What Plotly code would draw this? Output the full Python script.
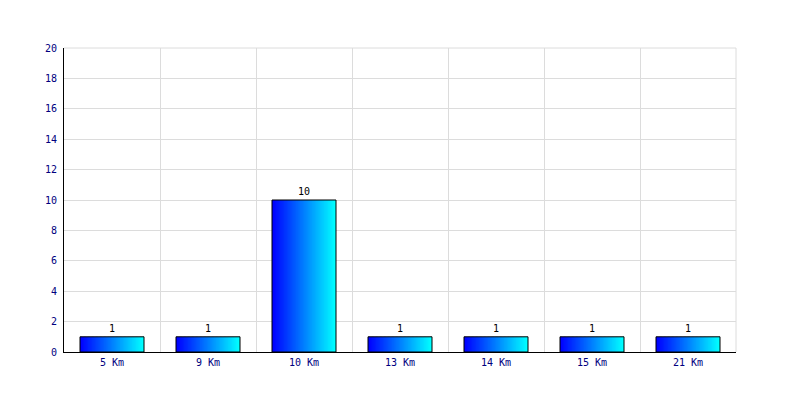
import plotly.graph_objects as go

categories = ["5 Km", "9 Km", "10 Km", "13 Km", "14 Km", "15 Km", "21 Km"]
values = [1, 1, 10, 1, 1, 1, 1]
y_ticks = [0, 2, 4, 6, 8, 10, 12, 14, 16, 18, 20]

xpos = list(range(len(categories)))
bar_w = 2 / 3
n_slices = 48
fig = go.Figure()
sw = bar_w / n_slices
for i in range(n_slices):
    t = i / (n_slices - 1)
    g = int(round(255 * t))
    fig.add_trace(go.Bar(
        x=xpos, y=values, width=sw * 1.6, offset=-bar_w / 2 + i * sw if i < n_slices - 1 else bar_w / 2 - sw * 1.6,
        marker=dict(color=f"rgb(0,{g},255)", line=dict(width=0)),
        hoverinfo="skip", showlegend=False,
    ))
fig.add_trace(go.Bar(
    x=xpos, y=values, width=bar_w, offset=-bar_w / 2,
    marker=dict(color="rgba(0,0,0,0)", line=dict(color="black", width=1)),
    text=[str(v) for v in values], textposition="outside", cliponaxis=False,
    textfont=dict(family="DejaVu Sans Mono", size=10, color="black"),
    showlegend=False,
))

fig.update_layout(
    width=800, height=400, barmode="overlay",
    margin=dict(l=56, r=72, t=40, b=56),
    paper_bgcolor="white", plot_bgcolor="white",
    font=dict(family="DejaVu Sans Mono", size=10, color="#000080"),
    xaxis=dict(
        range=[-0.5, len(categories) - 0.5],
        tickmode="array", tickvals=xpos, ticktext=categories,
        showgrid=False, ticks="", ticklabelstandoff=1,
        showline=True, linecolor="black", linewidth=1,
        minor=dict(tick0=0.5, dtick=1, showgrid=True, gridcolor="#dcdcdc", gridwidth=1, ticks=""),
        zeroline=False, mirror=False,
    ),
    yaxis=dict(
        range=[0, 20], tickmode="array", tickvals=y_ticks,
        showgrid=True, gridcolor="#dcdcdc", gridwidth=1, ticks="", ticklabelstandoff=4,
        showline=True, linecolor="black", linewidth=1, zeroline=False,
    ),
    shapes=[
        dict(type="line", xref="paper", yref="paper", x0=0, x1=1, y0=1, y1=1, line=dict(color="#dcdcdc", width=1)),
        dict(type="line", xref="paper", yref="paper", x0=1, x1=1, y0=0, y1=1, line=dict(color="#dcdcdc", width=1)),
    ],
)
fig.write_html("out.html")
